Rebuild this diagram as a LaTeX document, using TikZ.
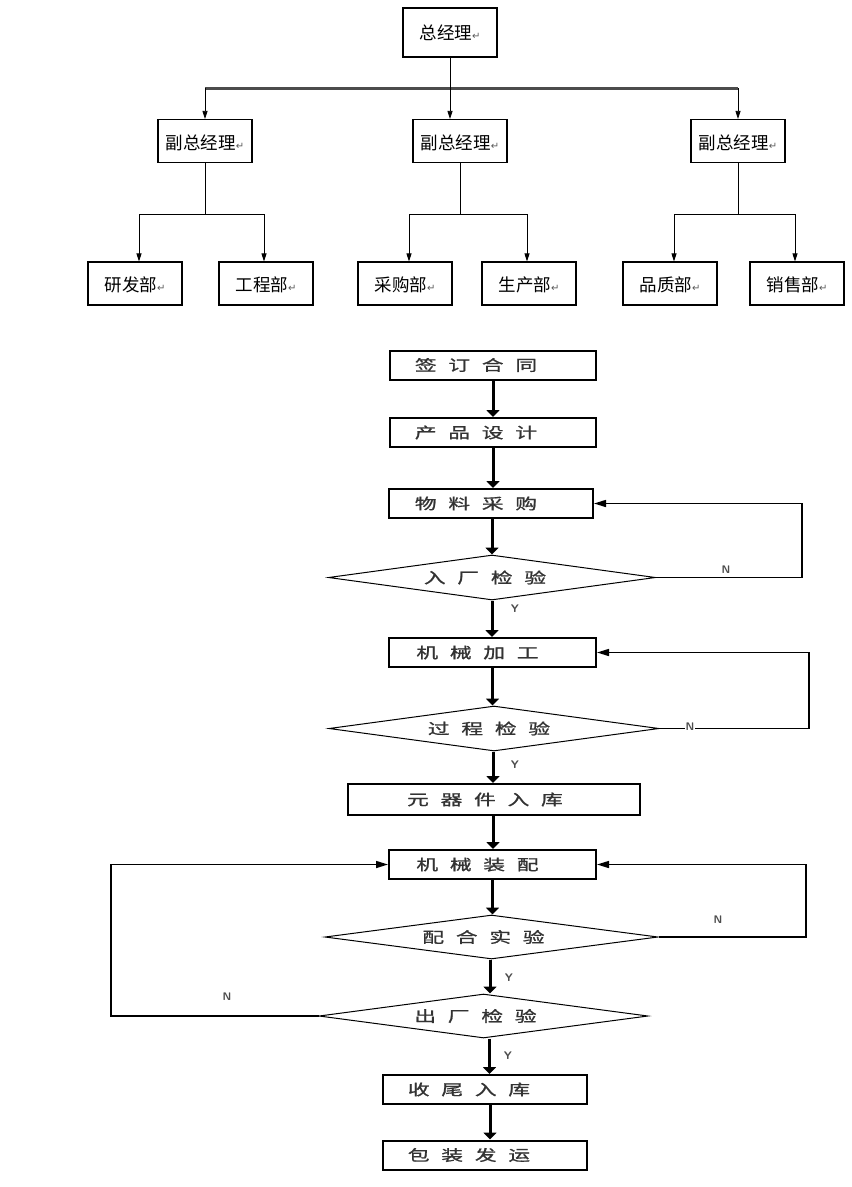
\documentclass[tikz,border=0pt]{standalone}
\usepackage{fontspec}
\usepackage{graphicx}
\setmainfont{Liberation Sans}
\newfontfamily\cjkfont{Noto Sans CJK SC}
\newfontfamily\flowfont{Noto Sans CJK SC}[LetterSpace=54, FakeBold=1]
\newfontfamily\markfont{DejaVu Sans}
\usetikzlibrary{arrows.meta, shapes.geometric}

\newcommand{\retmark}{{\markfont\fontsize{10}{10}\selectfont\color{black!65}↵}}
\newcommand{\orgtext}[1]{\raisebox{-3pt}[0.8em][0.2em]{#1\retmark}}
\newcommand{\flowtext}[2][30pt]{\scalebox{1.45}[1]{\flowfont\fontsize{15}{15}\selectfont #2}\hspace*{#1}}

\begin{document}
\begin{tikzpicture}[x=1pt, y=-1pt,
		orgbox/.style={draw, line width=1.2pt, minimum width=94pt, minimum height=43pt, inner sep=0pt, font=\cjkfont\fontsize{17.5}{17.5}\selectfont},
		orgline/.style={line width=0.8pt},
		orgarrow/.style={line width=0.8pt, -{Triangle[width=5pt,length=8pt]}},
		flowbox/.style={draw, line width=2pt, minimum height=29pt, inner sep=0pt, text=black!80},
		checkbox/.style={draw, diamond, aspect=7.3, line width=1pt, inner sep=0pt, text=black!80},
		flowarrow/.style={line width=3pt, -{Triangle[width=13pt,length=7pt]}},
		looparrow/.style={line width=1.5pt, -{Triangle[width=7pt,length=12pt]}},
		yn/.style={font=\sffamily\bfseries\fontsize{11}{11}\selectfont, text=black!70, inner sep=1pt}]
	\useasboundingbox (0,0) rectangle (852,1187);
	
	% Organisation chart
	\node[orgbox, minimum height=49pt] (gm) at (450,32.5) {总经理\retmark};
	\node[orgbox] (vp1) at (205,141) {\orgtext{副总经理}};
	\node[orgbox] (vp2) at (460,141) {\orgtext{副总经理}};
	\node[orgbox] (vp3) at (738,141) {\orgtext{副总经理}};
	
	\node[orgbox] (rd) at (135,283.5) {\orgtext{研发部}};
	\node[orgbox] (eng) at (266,283.5) {\orgtext{工程部}};
	\node[orgbox] (pur) at (405,283.5) {\orgtext{采购部}};
	\node[orgbox] (prod) at (529,283.5) {\orgtext{生产部}};
	\node[orgbox] (qc) at (670,283.5) {\orgtext{品质部}};
	\node[orgbox] (sales) at (797,283.5) {\orgtext{销售部}};
	
	\coordinate (bus) at (0,88);
	\draw[line width=3pt, black!70] (vp1.north |- bus) -- (vp3.north |- bus);
	\draw[orgarrow] (gm.south) -- (gm.south |- vp2.north);
	\draw[orgarrow] (vp1.north |- bus) -- (vp1.north);
	\draw[orgarrow] (vp3.north |- bus) -- (vp3.north);
	
	% Departments under each vice manager
	\foreach \vp/\l/\r in {vp1/rd/eng, vp2/pur/prod, vp3/qc/sales}{
		\draw[orgline] (\vp.south) -- ++(0,51) coordinate (\vp-j);
		\draw[orgarrow] (\vp-j) -| ([xshift=4pt]\l.north);
		\draw[orgarrow] (\vp-j) -| ([xshift=-2pt]\r.north);
	}
	
	% Process flow
	\node[flowbox, minimum width=206pt] (sign) at (493,365) {\flowtext[34pt]{签订合同}};
	\node[flowbox, minimum width=206pt] (design) at (493,432.5) {\flowtext[34pt]{产品设计}};
	\node[flowbox, minimum width=204pt] (buy) at (491,503.5) {\flowtext{物料采购}};
	\node[checkbox, minimum width=327pt, minimum height=45pt] (inchk) at (492,577.5) {\flowtext[14pt]{入厂检验}};
	\node[flowbox, minimum width=207pt] (mach) at (492.5,652.5) {\flowtext{机械加工}};
	\node[checkbox, minimum width=330pt, minimum height=45pt] (prochk) at (494,728.5) {\flowtext[10pt]{过程检验}};
	\node[flowbox, minimum width=292pt, minimum height=31pt] (store) at (494,799.5) {\flowtext[18pt]{元器件入库}};
	\node[flowbox, minimum width=207pt] (asm) at (492.5,864.5) {\flowtext{机械装配}};
	\node[checkbox, minimum width=333pt, minimum height=44pt] (fit) at (491.5,937) {\flowtext[16pt]{配合实验}};
	\node[checkbox, minimum width=329pt, minimum height=44pt] (outchk) at (483.5,1016) {\flowtext[16pt]{出厂检验}};
	\node[flowbox, minimum width=204pt] (final) at (485,1089.5) {\flowtext[32pt]{收尾入库}};
	\node[flowbox, minimum width=204pt] (ship) at (485,1155) {\flowtext[32pt]{包装发运}};
	
	% Main line
	\draw[flowarrow] (sign.south) -- (sign.south |- design.north);
	\draw[flowarrow] (design.south) -- (design.south |- buy.north);
	\draw[flowarrow] ([xshift=1pt]buy.south) -- ([xshift=1pt]buy.south |- inchk.north);
	\draw[flowarrow] (inchk.south) -- (inchk.south |- mach.north);
	\draw[flowarrow] (mach.south) -- (mach.south |- prochk.north);
	\draw[flowarrow] ([xshift=-1pt]prochk.south) -- ([xshift=-1pt]prochk.south |- store.north);
	\draw[flowarrow] ([xshift=-1pt]store.south) -- ([xshift=-1pt]store.south |- asm.north);
	\draw[flowarrow] (asm.south) -- (asm.south |- fit.north);
	\draw[flowarrow] ([xshift=-1.5pt]fit.south) -- ([xshift=-1.5pt]fit.south |- outchk.north);
	\draw[flowarrow] ([xshift=6pt]outchk.south) -- ([xshift=6pt]outchk.south |- final.north);
	\draw[flowarrow] ([xshift=5pt]final.south) -- ([xshift=5pt]final.south |- ship.north);
	
	% Return loops
	\draw[looparrow] (inchk.east) -- (802,577.5) |- (buy.east);
	\draw[looparrow] (prochk.east) -- (809,728.5) |- (mach.east);
	\draw[looparrow] (fit.east) -- (806,937) |- (asm.east);
	\draw[looparrow] (outchk.west) -- (111,1016) |- (asm.west);
	
	\node[yn] (n1) at (726,570) {N};
	\node[yn] (y1) at (515,609) {Y};
	\node[yn, fill=white] (n2) at (690,727) {N};
	\node[yn] (y2) at (515,765) {Y};
	\node[yn] (n3) at (718,920) {N};
	\node[yn] (y3) at (509,978) {Y};
	\node[yn] (n4) at (227,997) {N};
	\node[yn] (y4) at (508,1056) {Y};
\end{tikzpicture}
\end{document}
